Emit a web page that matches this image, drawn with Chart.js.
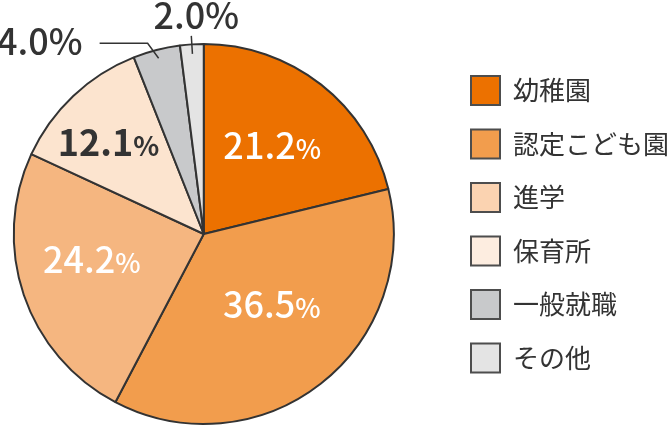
<!DOCTYPE html>
<html lang="ja">
<head>
<meta charset="utf-8">
<title>卒業後の進路</title>
<script src="https://cdn.jsdelivr.net/npm/chart.js@4.4.1/dist/chart.umd.min.js"></script>
<style>
  html, body { margin: 0; padding: 0; background: #fff; }
  #wrap { width: 669px; height: 426px; overflow: hidden; position: relative; }
  /* canvas is a little wider than the frame so the pie sits left of the chart-area centre */
  #pie { position: absolute; left: -39px; top: 0; }
</style>
</head>
<body>
<div id="wrap"><canvas id="pie" width="708" height="426"></canvas></div>
<script>
// ─── DATA ─────────────────────────────────────────────────────────────────────
const categories = ['幼稚園', '認定こども園', '進学', '保育所', '一般就職', 'その他'];
const shares     = [21.2, 36.5, 24.2, 12.1, 4.0, 2.0];

// ─── STYLE ────────────────────────────────────────────────────────────────────
const sliceColors  = ['#EC7100', '#F29D4D', '#F5B680', '#FCE4CF', '#C8C9CB', '#E4E4E4'];
const legendColors = ['#EC7100', '#F29D4D', '#FBD3B1', '#FDEDE0', '#C8C9CB', '#E4E4E4'];
const FONT = '"Noto Sans CJK JP", "Noto Sans", sans-serif';
const INK  = '#333333';

// in-slice labels: small pixel nudges off the 0.6R anchor, colour and weight
const insideNudge  = [[-2, 2], [-2, -19], [-4, -11], [-17, -8]];
const insideColor  = ['#fff', '#fff', '#fff', INK];
const insideWeight = ['500', '500', '500', '700'];

// ── percentage labels (inside + leader lines for the small slices) ──────────
const pctLabels = {
  id: 'pctLabels',
  afterDatasetsDraw(chart) {
    const { ctx } = chart;
    const arcs = chart.getDatasetMeta(0).data;
    ctx.save();
    ctx.textBaseline = 'alphabetic';
    arcs.forEach((arc, i) => {
      const { x, y, startAngle, endAngle, outerRadius: R } =
        arc.getProps(['x', 'y', 'startAngle', 'endAngle', 'outerRadius'], true);
      const mid = (startAngle + endAngle) / 2;
      const at = f => [x + Math.cos(mid) * R * f, y + Math.sin(mid) * R * f];
      const num = shares[i].toFixed(1);

      if (i < 4) {
        const [px, py] = at(0.6);
        const cx = px + insideNudge[i][0];
        const base = py + insideNudge[i][1] + 13;
        const w = insideWeight[i];
        ctx.font = `${w} 36px ${FONT}`;
        const wNum = ctx.measureText(num).width;
        ctx.font = `${w} 27px ${FONT}`;
        const wPct = ctx.measureText('%').width;
        const left = cx - (wNum + wPct) / 2;
        ctx.fillStyle = insideColor[i];
        ctx.textAlign = 'left';
        ctx.font = `${w} 36px ${FONT}`;
        ctx.fillText(num, left, base);
        ctx.font = `${w} 27px ${FONT}`;
        ctx.fillText('%', left + wNum, base);
        return;
      }

      ctx.strokeStyle = INK;
      ctx.lineWidth = 1.5;
      ctx.fillStyle = INK;
      ctx.font = `500 36px ${FONT}`;
      if (i === 4) {
        const end = at(0.955);
        const elbow = [end[0] - 11, end[1] - 15];
        const start = [elbow[0] - 48, elbow[1]];
        ctx.beginPath();
        ctx.moveTo(end[0], end[1]);
        ctx.lineTo(elbow[0], elbow[1]);
        ctx.lineTo(start[0], start[1]);
        ctx.stroke();
        ctx.textAlign = 'right';
        ctx.fillText(num + '%', start[0] - 17, start[1] + 12);
      } else {
        const p1 = at(0.95), p2 = at(1.045);
        ctx.beginPath();
        ctx.moveTo(p1[0], p1[1]);
        ctx.lineTo(p2[0], p2[1]);
        ctx.stroke();
        ctx.textAlign = 'center';
        ctx.fillText(num + '%', p2[0] + 5, p2[1] - 7);
      }
    });
    ctx.restore();
  },
};

new Chart(document.getElementById('pie'), {
  type: 'pie',
  data: {
    labels: categories,
    datasets: [{
      data: shares,
      backgroundColor: sliceColors,
      borderColor: '#333333',
      borderWidth: 2,
    }],
  },
  options: {
    responsive: false,
    animation: false,
    layout: { padding: { left: 0, right: 0, top: 43, bottom: 1 } },
    plugins: {
      tooltip: { enabled: false },
      legend: {
        position: 'right',
        align: 'start',
        maxWidth: 222.5,
        title: { display: true, text: '', font: { size: 4, lineHeight: 1 }, padding: { top: 4.5, bottom: 0 } },
        labels: {
          boxWidth: 29,
          boxHeight: 29,
          padding: 24.5,
          color: INK,
          font: { family: FONT, size: 26 },
          generateLabels: () => categories.map((text, i) => ({
            text,
            fillStyle: legendColors[i],
            strokeStyle: '#4d4d4d',
            lineWidth: 2,
            fontColor: INK,
            hidden: false,
            index: i,
          })),
        },
      },
    },
  },
  plugins: [pctLabels],
});
</script>
</body>
</html>
